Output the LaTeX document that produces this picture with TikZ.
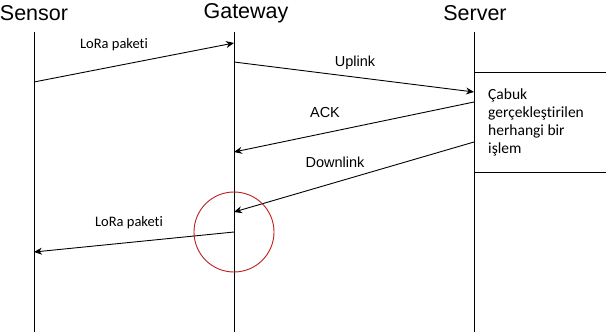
\documentclass[tikz,border=0pt]{standalone}
\usepackage{fontspec}
\setmainfont{Liberation Sans}
\newfontfamily\calfont[Ligatures={NoCommon}]{Carlito}
\usetikzlibrary{arrows.meta}
\definecolor{circred}{RGB}{190,30,30}
\begin{document}
\begin{tikzpicture}[x=1pt,y=-1pt,
  title/.style={font=\fontsize{21.5}{24}\selectfont, inner sep=0pt},
  lifeline/.style={line width=1pt, black},
  msg/.style={line width=0.9pt, -{Stealth[length=8pt,width=7pt]}},
  lbl/.style={font=\fontsize{14.5}{16}\selectfont, inner sep=0pt},
  clbl/.style={font=\calfont\fontsize{14.5}{16}\selectfont, inner sep=0pt}]
\useasboundingbox (0,0) rectangle (606,335);
% titles
\node[title] (tS) at (34,13) {Sensor};
\node[title] (tG) at (246,13) {Gateway};
\node[title] (tV) at (475,13) {Server};
% lifelines
\coordinate (s0) at (34,32); \coordinate (s1) at (34,332);
\coordinate (g0) at (234,32); \coordinate (g1) at (234,332);
\coordinate (v0) at (474,32); \coordinate (v1) at (474,332);
\draw[lifeline] (s0) -- (s1);
\draw[lifeline] (g0) -- (g1);
\draw[lifeline] (v0) -- (v1);
% processing box lines
\coordinate (b1a) at (474,72); \coordinate (b1b) at (606,72);
\coordinate (b2a) at (474,172); \coordinate (b2b) at (606,172);
\draw[line width=0.8pt] (b1a) -- (b1b);
\draw[line width=0.8pt] (b2a) -- (b2b);
\node[font=\calfont\fontsize{15.5}{18}\selectfont, align=left, anchor=north west, inner sep=0pt] (proc) at (488,89)
  {Çabuk\\gerçekleştirilen\\herhangi bir\\işlem};
% messages
\coordinate (m1a) at (34,82); \coordinate (m1b) at (234,43);
\draw[msg] (m1a) -- (m1b);
\node[clbl] (l1) at (114,45) {LoRa paketi};
\coordinate (m2a) at (234,62); \coordinate (m2b) at (474,92);
\draw[msg] (m2a) -- (m2b);
\node[lbl] (l2) at (355,63) {Uplink};
\coordinate (m3a) at (474,102); \coordinate (m3b) at (234,152);
\draw[msg] (m3a) -- (m3b);
\node[lbl] (l3) at (325,113) {ACK};
\coordinate (m4a) at (474,142); \coordinate (m4b) at (234,212);
\draw[msg] (m4a) -- (m4b);
\node[lbl] (l4) at (335,162) {Downlink};
\coordinate (m5a) at (234,232); \coordinate (m5b) at (34,252);
\draw[msg] (m5a) -- (m5b);
\node[clbl] (l5) at (129,223) {LoRa paketi};
% highlight circle
\node[draw=circred, line width=0.9pt, circle, minimum size=80pt, inner sep=0pt] (hl) at (234,232) {};
\end{tikzpicture}
\end{document}
